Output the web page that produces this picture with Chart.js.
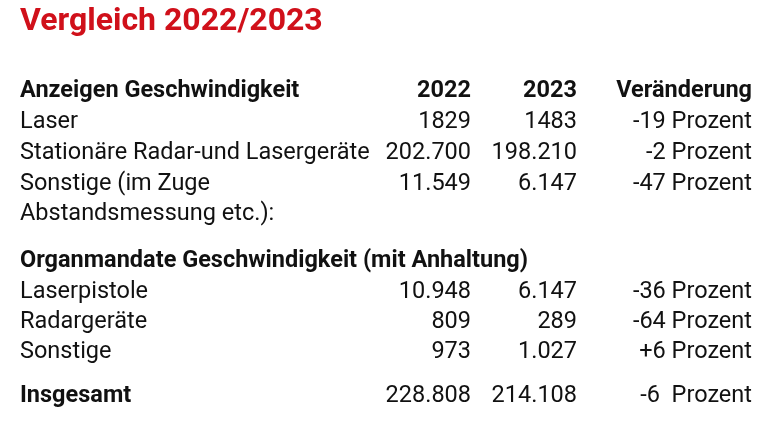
<!DOCTYPE html>
<html><head><meta charset="utf-8">
<script src="https://cdn.jsdelivr.net/npm/chart.js@4"></script>
<style>html,body{margin:0;padding:0;background:#fff}#w{width:782px;height:438px}</style>
</head><body><div id="w"><canvas id="c"></canvas></div>
<script>
const title = "Vergleich 2022/2023";
const headers = ["Anzeigen Geschwindigkeit","2022","2023","Veränderung"];
const labels = ["Laser","Stationäre Radar-und Lasergeräte","Sonstige (im Zuge","Abstandsmessung etc.):","Organmandate Geschwindigkeit (mit Anhaltung)","Laserpistole","Radargeräte","Sonstige","Insgesamt"];
const values2022 = ["1829","202.700","11.549","","","10.948","809","973","228.808"];
const values2023 = ["1483","198.210","6.147","","","6.147","289","1.027","214.108"];
const changes = ["-19 Prozent","-2 Prozent","-47 Prozent","","","-36 Prozent","-64 Prozent","+6 Prozent","-6  Prozent"];
const bold = [false,false,false,false,true,false,false,false,true];
const rowY = [122,153,184,214,261,292,322,352,396];
const FONT = '"Roboto",sans-serif';
const tablePlugin = {
  id:'table',
  afterDraw(chart){
    const ctx = chart.ctx, x = chart.scales.x, y = chart.scales.y;
    ctx.save();
    ctx.textBaseline = 'middle';
    ctx.fillStyle = '#d0101a';
    ctx.font = 'bold 32px ' + FONT;
    ctx.textAlign = 'left';
    ctx.fillText(title, x.getPixelForValue(20), y.getPixelForValue(22));
    ctx.fillStyle = '#111';
    const cols = [20,471,577,752];
    const put = (t,i,yy,b)=>{
      ctx.font = (b?'bold ':'') + '23.5px ' + FONT;
      ctx.textAlign = i===0?'left':'right';
      ctx.fillText(t, x.getPixelForValue(cols[i]), y.getPixelForValue(yy));
    };
    headers.forEach((h,i)=>put(h,i,91,true));
    labels.forEach((l,r)=>{
      put(l,0,rowY[r],bold[r]);
      put(values2022[r],1,rowY[r],false);
      put(values2023[r],2,rowY[r],false);
      put(changes[r],3,rowY[r],false);
    });
    ctx.restore();
  }
};
new Chart(document.getElementById('c'),{
  type:'scatter',
  data:{datasets:[{data:[],pointRadius:0}]},
  options:{responsive:true,maintainAspectRatio:false,animation:false,
    layout:{padding:0},
    plugins:{legend:{display:false},tooltip:{enabled:false},title:{display:false}},
    scales:{x:{type:'linear',min:0,max:782,display:false},
            y:{type:'linear',min:0,max:438,reverse:true,display:false}}},
  plugins:[tablePlugin]
});
</script></body></html>
